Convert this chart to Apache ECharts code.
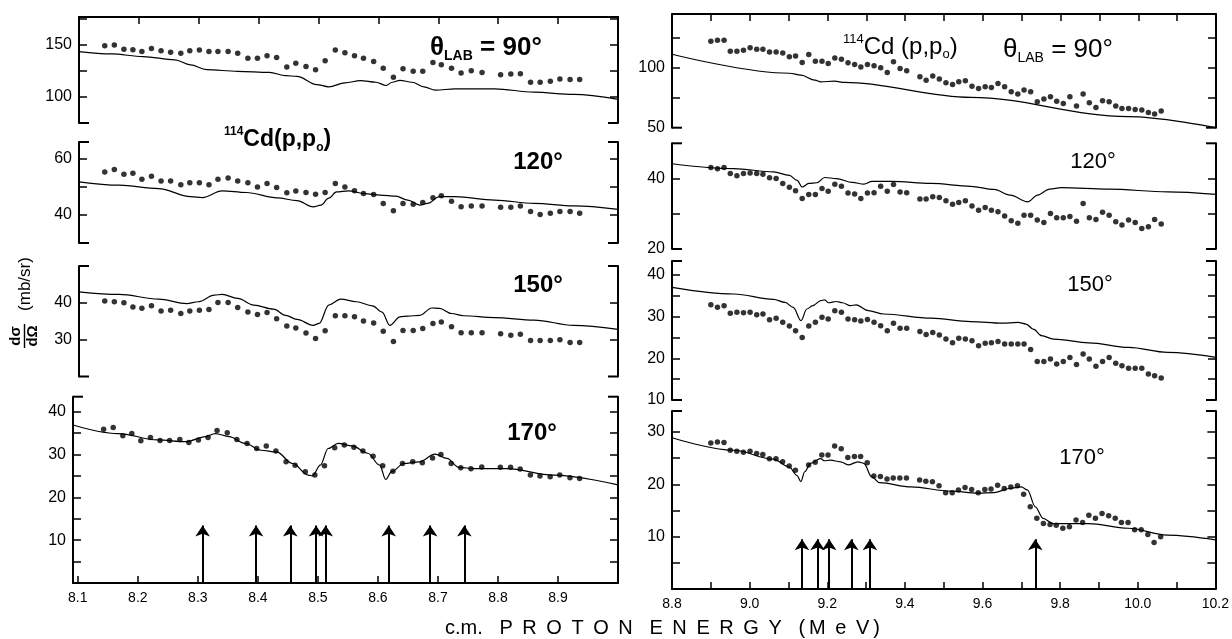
<!DOCTYPE html>
<html>
<head>
<meta charset="utf-8">
<title>114Cd(p,p0) excitation functions</title>
<script src="https://cdn.jsdelivr.net/npm/echarts@6/dist/echarts.min.js"></script>
<style>
  html, body { margin: 0; padding: 0; background: #fff; }
  #main { width: 1232px; height: 639px; }
</style>
</head>
<body>
<div id="main"></div>
<script>
// ---- data ----
// left column: measured energies (MeV), shared by the four angles
var leftE = [8.143, 8.159, 8.175, 8.190, 8.205, 8.221, 8.237, 8.253, 8.270, 8.285,
  8.301, 8.317, 8.332, 8.349, 8.365, 8.382, 8.398, 8.414, 8.430, 8.447,
  8.462, 8.479, 8.495, 8.511, 8.528, 8.544, 8.560, 8.575, 8.592, 8.608,
  8.625, 8.641, 8.658, 8.674, 8.691, 8.705, 8.722, 8.738, 8.755, 8.773,
  8.804, 8.821, 8.837, 8.854, 8.870, 8.887, 8.903, 8.920, 8.936];
var l90 = [149.4, 150, 145.9, 145.5, 143.7, 146.8, 144.6, 143, 142.1, 144.6,
  145.3, 143.7, 143.7, 143.7, 142.1, 137.3, 137.3, 139.6, 138, 128.8,
  132.6, 129.4, 126.3, 134.8, 145.3, 142.7, 139.6, 137.3, 134.2, 127.8,
  119, 127.2, 124.7, 124.7, 133.2, 131, 127.8, 123.1, 125.3, 123.7,
  121.5, 122.2, 122.5, 114.2, 114.2, 115.2, 117.4, 116.8, 116.8];
var l120 = [55.3, 56.2, 54.5, 54.9, 52.7, 53.8, 52.1, 52.1, 50.8, 51.5,
  51.5, 50.8, 52.7, 53.2, 52.1, 51.5, 50, 51.2, 49.8, 47.9,
  48.5, 48, 47.4, 48, 51.2, 50, 48.6, 47.6, 47.3, 44.1,
  41.5, 44.1, 43.8, 44.4, 46.1, 46.8, 44.9, 42.9, 43.2, 43.2,
  42.7, 42.7, 43.2, 41.2, 40.2, 40.6, 41.2, 41.2, 40.6];
var l150 = [40.5, 40.3, 40, 38.9, 38.5, 39.2, 37.8, 38, 37.1, 37.8,
  38, 38.2, 40.1, 40.1, 38.7, 37.5, 36.8, 37.4, 35.7, 33.7,
  33.2, 31.8, 30.3, 32.4, 36.5, 36.5, 36.2, 35.1, 34.5, 32.3,
  29.5, 32.5, 32.5, 33, 34.4, 34.8, 33.5, 31.9, 31.9, 31.9,
  31.6, 31.2, 31.5, 29.8, 29.8, 29.8, 30, 29.2, 29.2];
var l170 = [35.9, 36.3, 34.4, 34.9, 33.2, 34, 33.3, 33.3, 33.5, 32.8,
  33.4, 34, 35.6, 35.1, 33.5, 32.6, 31.4, 32, 30.8, 28.3,
  27.5, 26, 25.2, 27.4, 31.6, 32.2, 31.7, 30.8, 29.6, 27.4,
  26.1, 27.9, 28.3, 28.1, 29.2, 30, 27.9, 26.9, 26.7, 27.1,
  27, 27, 26.6, 25.2, 25, 24.8, 25.2, 24.6, 24.4];

// left column: calculated curves
var l90FitE = [8.1, 8.154, 8.207, 8.26, 8.286, 8.313, 8.365, 8.418, 8.445, 8.464, 8.497, 8.517, 8.544,
  8.57, 8.596, 8.613, 8.623, 8.636, 8.656, 8.676, 8.695, 8.728, 8.794, 8.86, 8.926, 9.0];
var l90Fit = [143.7, 141.5, 138.9, 135.8, 131, 126.3, 124.7, 123.7, 120.6, 119.9, 112, 109.8, 113.6,
  115.8, 114.2, 111.1, 114.2, 116.1, 114.2, 109.8, 106.6, 107.9, 107.9, 104.7, 102.5, 97.8];
var l120FitE = [8.1, 8.167, 8.233, 8.286, 8.306, 8.339, 8.379, 8.431, 8.464, 8.491, 8.504, 8.517, 8.53,
  8.55, 8.577, 8.603, 8.629, 8.649, 8.669, 8.682, 8.702, 8.728, 8.794, 8.86, 8.926, 9.0];
var l120Fit = [51.8, 50.6, 49.4, 46.5, 46.2, 48.6, 48, 46.1, 45.1, 42.9, 43.5, 46, 48.2,
  48.6, 47.6, 47.1, 46.7, 45.3, 43.5, 44.1, 46.5, 46.5, 45.3, 44.1, 43.2, 42];
var l150FitE = [8.1, 8.167, 8.233, 8.28, 8.299, 8.326, 8.339, 8.365, 8.392, 8.425, 8.445, 8.464, 8.491,
  8.501, 8.517, 8.537, 8.563, 8.59, 8.606, 8.619, 8.636, 8.649, 8.669, 8.689, 8.702, 8.722, 8.742,
  8.794, 8.86, 8.926, 9.0];
var l150Fit = [43, 42.3, 41, 39.8, 40.3, 42.1, 42.3, 41.2, 39.4, 38.3, 36.6, 35.5, 33.9,
  34.4, 39.4, 41, 40.3, 39.2, 37.5, 33.9, 36.2, 36.4, 36.6, 38.6, 38.5, 37.1, 36.5,
  36, 35.3, 33.9, 32.8];
var l170FitE = [8.092, 8.167, 8.233, 8.28, 8.313, 8.329, 8.352, 8.379, 8.405, 8.431, 8.458, 8.484, 8.491,
  8.504, 8.517, 8.534, 8.557, 8.583, 8.603, 8.613, 8.623, 8.643, 8.669, 8.695, 8.715, 8.735, 8.761,
  8.814, 8.893, 9.0];
var l170Fit = [36.9, 34.9, 33.4, 33, 34.2, 34.9, 34.2, 32.6, 31, 30.6, 27.9, 25.2, 25,
  27.5, 31.4, 32.6, 32, 30.3, 27.5, 24.2, 26, 27.9, 28.3, 30.1, 29.1, 27, 26.7,
  26.7, 25.2, 22.9];

// right column: measured energies (MeV), shared by the four angles
var rightE = [8.900, 8.917, 8.934, 8.950, 8.967, 8.984, 9.001, 9.018, 9.034, 9.051,
  9.068, 9.085, 9.102, 9.118, 9.135, 9.152, 9.169, 9.186, 9.202, 9.219,
  9.236, 9.253, 9.270, 9.286, 9.303, 9.320, 9.337, 9.354, 9.370, 9.387,
  9.404, 9.421, 9.438, 9.454, 9.471, 9.488, 9.505, 9.522, 9.538, 9.555,
  9.572, 9.589, 9.606, 9.622, 9.639, 9.656, 9.673, 9.690, 9.706, 9.723,
  9.740, 9.757, 9.774, 9.790, 9.807, 9.824, 9.841, 9.858, 9.874, 9.891,
  9.908, 9.925, 9.942, 9.958, 9.975, 9.992, 10.009, 10.026, 10.042, 10.059];
var r90 = [122.2, 123.1, 123.1, 113.9, 113.9, 114.7, 116.7, 115.6, 115.6, 113.3,
  113.3, 112.5, 109.2, 110, 104.4, 111.1, 105.6, 105.6, 103.6, 108.3,
  107.2, 104.2, 102.8, 100.8, 102.8, 101.7, 100, 96.1, 105, 99.4,
  97.5, null, 92.5, 89.7, 93.1, 90.6, 87.5, 86.1, 88.3, 89.2,
  84.7, 82.8, 84.2, 83.6, 86.9, 84.2, 80, 78.1, 81.4, 80,
  71.7, 73.9, 75.8, 72.2, 70.3, 75.8, 68.1, 78.1, 70.8, 66.9,
  72.5, 71.7, 68.1, 66.1, 66.1, 65.3, 64.7, 62.8, 61.4, 63.9];
var r120 = [43.1, 42.8, 43.1, 41.4, 40.8, 41.4, 41.6, 41.4, 41.2, 40.2,
  40, 38.6, 37.5, 36.5, 34.3, 35.5, 35.5, 37.2, 36.4, 38.4,
  37.8, 35.9, 35.6, 34.3, 35.9, 36.0, 37.8, 36.4, 38.3, 36.2,
  36.0, null, 34.2, 34.2, 34.8, 34.6, 33.7, 32.7, 33.2, 33.7,
  32.2, 31.0, 31.8, 31.0, 30.6, 29.4, 28.0, 27.3, 29.6, 29.6,
  28.2, 27.5, 30.1, 28.9, 28.9, 29.2, 27.9, 32.9, 28.9, 28.4,
  30.4, 29.6, 27.7, 26.8, 28.2, 27.5, 25.8, 26.3, 28.4, 27.1];
var r150 = [32.8, 32.2, 32.6, 30.8, 31.0, 30.9, 31.0, 30.4, 30.6, 29.2,
  29.6, 28.6, 27.7, 26.6, 25.0, 27.7, 28.6, 29.8, 29.4, 31.4,
  31.0, 29.4, 29.2, 28.9, 29.3, 28.6, 27.8, 26.6, 28.4, 27.2,
  27.2, null, 26.4, 25.7, 26.2, 25.6, 24.6, 23.7, 24.8, 24.6,
  24.2, 23.0, 23.6, 23.7, 24.0, 23.4, 23.4, 23.4, 23.4, 22.1,
  19.2, 19.2, 19.8, 18.6, 19.2, 20.2, 18.5, 21.0, 19.8, 18.1,
  19.2, 20.2, 18.8, 18.2, 17.6, 17.6, 17.6, 16.2, 15.8, 15.3];
var r170 = [27.9, 28.1, 28.0, 26.5, 26.3, 26.1, 26.3, 25.9, 25.7, 24.9,
  24.9, 24.3, 23.5, 22.7, null, 23.7, 24.2, 25.6, 25.6, 27.3,
  26.8, 25.1, 25.3, 25.3, 24.1, 21.6, 21.5, 21.0, 21.2, 21.2,
  21.2, null, 20.8, 20.6, 20.5, 19.7, 18.4, 18.4, 18.9, 19.4,
  19.0, 18.4, 19.0, 19.1, 19.8, 19.2, 19.5, 19.7, 18.1, 15.7,
  13.5, 12.5, 12.3, 12.2, 11.6, 11.9, 13.2, 12.7, 14.1, 13.5,
  14.4, 14.0, 13.5, 12.7, 12.7, 11.3, 11.3, 10.4, 8.9, 10.0];

// right column: calculated curves
var r90FitE = [8.8, 9.102, 9.132, 9.168, 9.183, 9.218, 9.244, 9.569, 9.975, 10.2];
var r90Fit = [111.4, 95.5, 93.9, 89.7, 88.3, 88.9, 87.8, 75.3, 59.2, 50];
var r120FitE = [8.8, 8.959, 9.061, 9.102, 9.122, 9.135, 9.152, 9.173, 9.193, 9.223, 9.264, 9.294, 9.315,
  9.365, 9.467, 9.569, 9.629, 9.67, 9.716, 9.741, 9.772, 9.802, 9.924, 10.076, 10.2];
var r120Fit = [44.2, 42.8, 41.9, 40.9, 39.5, 37.6, 38.6, 38.8, 40.3, 40, 38.9, 38.4, 39.2,
  39.2, 38.6, 37.8, 36.9, 35.3, 33.4, 35.3, 37.0, 37.4, 37.0, 36.2, 35.5];
var r150FitE = [8.8, 8.959, 9.061, 9.091, 9.112, 9.132, 9.147, 9.162, 9.183, 9.193, 9.203, 9.223, 9.239,
  9.259, 9.274, 9.305, 9.345, 9.467, 9.569, 9.65, 9.69, 9.711, 9.731, 9.751, 9.782, 9.873, 9.975,
  10.076, 10.2];
var r150Fit = [37.0, 35.4, 34.1, 33.4, 32.2, 29.0, 31.8, 32.6, 33.8, 34.0, 33.3, 33.6, 33.3,
  32.6, 32.8, 31.4, 30.6, 29.6, 28.8, 28.4, 28.6, 28.2, 26.9, 25.4, 24.6, 23.7, 22.6,
  21.4, 20.2];
var r170FitE = [8.8, 8.959, 9.061, 9.102, 9.122, 9.132, 9.142, 9.157, 9.183, 9.193, 9.208, 9.234, 9.254,
  9.279, 9.294, 9.315, 9.335, 9.416, 9.518, 9.589, 9.629, 9.67, 9.7, 9.716, 9.736, 9.756, 9.782,
  9.873, 9.975, 10.076, 10.2];
var r170Fit = [28.9, 26.5, 24.8, 23.3, 21.7, 20.5, 22.4, 24.0, 24.9, 24.5, 24.6, 24.3, 23.7,
  24.3, 24.0, 21.4, 20.3, 19.5, 18.7, 18.3, 18.4, 19.2, 19.5, 18.9, 15.7, 13.5, 12.5,
  12.5, 11.6, 10.3, 9.4];

// resonance markers (arrows) in the 170 degree panels
var leftArrows = [8.308, 8.397, 8.454, 8.497, 8.513, 8.618, 8.687, 8.744];
var leftArrowTop = 13.4;
var rightArrows = [9.135, 9.175, 9.205, 9.262, 9.31, 9.736];
var rightArrowTop = 9.5;

// tick values
var leftXTicks = [8.1, 8.2, 8.3, 8.4, 8.5, 8.6, 8.7, 8.8, 8.9];
var rightXTicks = [8.9, 9.0, 9.1, 9.2, 9.3, 9.4, 9.5, 9.6, 9.7, 9.8, 9.9, 10.0, 10.1];
var rightXLabels = [8.8, 9.0, 9.2, 9.4, 9.6, 9.8, 10.0, 10.2];

// ---- layout ----
var INK = '#000';
var FONT = '"Liberation Sans", Arial, sans-serif';

var panels = [
  {left: 79, top: 17, width: 539, height: 106, xmin: 8.1, xmax: 9.0, ymin: 75, ymax: 177,
    yTicks: [100, 125, 150, 175], yLabels: [100, 150], edge: 'top', xTicks: leftXTicks,
    E: leftE, pts: l90, fitE: l90FitE, fit: l90Fit},
  {left: 79, top: 142, width: 539, height: 101, xmin: 8.1, xmax: 9.0, ymin: 30, ymax: 66,
    yTicks: [40, 50, 60], yLabels: [40, 60], edge: 'none',
    E: leftE, pts: l120, fitE: l120FitE, fit: l120Fit},
  {left: 79, top: 266, width: 539, height: 110.5, xmin: 8.1, xmax: 9.0, ymin: 20, ymax: 50,
    yTicks: [30, 40], yLabels: [30, 40], edge: 'none',
    E: leftE, pts: l150, fitE: l150FitE, fit: l150Fit},
  {left: 73, top: 396.7, width: 545, height: 186.3, xmin: 8.092, xmax: 9.0, ymin: 0, ymax: 43.5,
    yTicks: [5, 10, 15, 20, 25, 30, 35, 40], yLabels: [10, 20, 30, 40], edge: 'bottom',
    xTicks: leftXTicks, xLabels: leftXTicks,
    E: leftE, pts: l170, fitE: l170FitE, fit: l170Fit, arrows: leftArrows, arrowTop: leftArrowTop},
  {left: 672, top: 14, width: 544, height: 113.7, xmin: 8.8, xmax: 10.2, ymin: 50, ymax: 145,
    yTicks: [75, 100, 125], yLabels: [50, 100], edge: 'top', xTicks: rightXTicks,
    E: rightE, pts: r90, fitE: r90FitE, fit: r90Fit},
  {left: 672, top: 143.3, width: 544, height: 105.7, xmin: 8.8, xmax: 10.2, ymin: 20, ymax: 50,
    yTicks: [30, 40], yLabels: [20, 40], edge: 'none',
    E: rightE, pts: r120, fitE: r120FitE, fit: r120Fit},
  {left: 672, top: 261, width: 544, height: 139, xmin: 8.8, xmax: 10.2, ymin: 10, ymax: 43.3,
    yTicks: [15, 20, 25, 30, 35, 40], yLabels: [10, 20, 30, 40], edge: 'none',
    E: rightE, pts: r150, fitE: r150FitE, fit: r150Fit},
  {left: 672, top: 411, width: 544, height: 178, xmin: 8.8, xmax: 10.2, ymin: 0, ymax: 34,
    yTicks: [5, 10, 15, 20, 25, 30], yLabels: [10, 20, 30], edge: 'bottom',
    xTicks: rightXTicks, xLabels: rightXLabels,
    E: rightE, pts: r170, fitE: r170FitE, fit: r170Fit, arrows: rightArrows, arrowTop: rightArrowTop}
];

function pairs(xs, ys) {
  var out = [];
  for (var i = 0; i < xs.length; i++) {
    if (ys[i] != null) out.push([xs[i], ys[i]]);
  }
  return out;
}

function seg(x1, y1, x2, y2) {
  return {type: 'line', silent: true, shape: {x1: x1, y1: y1, x2: x2, y2: y2},
    style: {stroke: INK, lineWidth: 2}};
}

function txt(x, y, text, font, align, rich) {
  var style = {text: text, x: x, y: y, fill: INK, font: font,
    textAlign: align || 'left', textVerticalAlign: 'middle'};
  if (rich) style.rich = rich;
  return {type: 'text', silent: true, style: style};
}

var grids = [], xAxes = [], yAxes = [], series = [], graphics = [];

panels.forEach(function(p, i) {
  grids.push({left: p.left, top: p.top, width: p.width, height: p.height});

  xAxes.push({
    type: 'value', gridIndex: i, min: p.xmin, max: p.xmax,
    position: p.edge === 'top' ? 'top' : 'bottom',
    axisLine: {show: p.edge !== 'none', onZero: false, lineStyle: {color: INK, width: 2}},
    axisTick: {show: p.edge !== 'none', inside: true, length: 7,
      customValues: p.xTicks, lineStyle: {color: INK, width: 1.5}},
    axisLabel: {show: p.edge === 'bottom', customValues: p.xLabels, margin: 8,
      color: INK, fontFamily: FONT, fontSize: 14,
      formatter: function(v) { return v.toFixed(1); }},
    splitLine: {show: false}
  });

  // left and right sides of the bracket
  ['left', 'right'].forEach(function(side) {
    yAxes.push({
      type: 'value', gridIndex: i, position: side, min: p.ymin, max: p.ymax,
      axisLine: {show: true, onZero: false, lineStyle: {color: INK, width: 2}},
      axisTick: {show: true, inside: true, length: 8, customValues: p.yTicks,
        lineStyle: {color: INK, width: 1.5}},
      axisLabel: {show: side === 'left', customValues: p.yLabels, margin: 7,
        color: INK, fontFamily: FONT, fontSize: 16},
      splitLine: {show: false}
    });
  });

  var line = {
    type: 'line', xAxisIndex: i, yAxisIndex: i * 2,
    data: pairs(p.fitE, p.fit), showSymbol: false, symbol: 'none',
    smooth: 0.35, smoothMonotone: 'x',
    lineStyle: {color: INK, width: 1.2}, silent: true, z: 2
  };
  if (p.arrows) {
    line.markLine = {
      silent: true, symbol: ['none', 'arrow'], symbolSize: 11,
      lineStyle: {color: INK, width: 2, type: 'solid'},
      label: {show: false},
      data: p.arrows.map(function(e) { return [{coord: [e, 0]}, {coord: [e, p.arrowTop]}]; })
    };
  }
  series.push(line);
  series.push({
    type: 'scatter', xAxisIndex: i, yAxisIndex: i * 2,
    data: pairs(p.E, p.pts), symbol: 'circle', symbolSize: 5.5,
    itemStyle: {color: INK}, silent: true, z: 3
  });

  // bracket caps
  var L = p.left, R = p.left + p.width, T = p.top, B = p.top + p.height;
  if (p.edge !== 'top') { graphics.push(seg(L, T, L + 10, T), seg(R - 10, T, R, T)); }
  if (p.edge !== 'bottom') { graphics.push(seg(L, B, L + 10, B), seg(R - 10, B, R, B)); }
});

// panel annotations
var boldRich = {
  a: {fontFamily: FONT, fontSize: 26, fontWeight: 'bold', color: INK, lineHeight: 30},
  b: {fontFamily: FONT, fontSize: 14, fontWeight: 'bold', color: INK, verticalAlign: 'bottom', lineHeight: 30},
  m: {fontFamily: FONT, fontSize: 23, fontWeight: 'bold', color: INK, lineHeight: 28},
  s: {fontFamily: FONT, fontSize: 12, fontWeight: 'bold', color: INK, verticalAlign: 'top', lineHeight: 28},
  o: {fontFamily: FONT, fontSize: 12, fontWeight: 'bold', color: INK, verticalAlign: 'bottom', lineHeight: 28}
};
var thinRich = {
  a: {fontFamily: FONT, fontSize: 26, color: INK, lineHeight: 30},
  b: {fontFamily: FONT, fontSize: 14, color: INK, verticalAlign: 'bottom', lineHeight: 30},
  m: {fontFamily: FONT, fontSize: 24, color: INK, lineHeight: 28},
  s: {fontFamily: FONT, fontSize: 13, color: INK, verticalAlign: 'top', lineHeight: 28},
  o: {fontFamily: FONT, fontSize: 13, color: INK, verticalAlign: 'bottom', lineHeight: 28}
};

graphics.push(
  txt(430, 48, '{a|θ}{b|LAB}{a| = 90°}', null, 'left', boldRich),
  txt(224, 140, '{s|114}{m|Cd(p,p}{o|o}{m|)}', null, 'left', boldRich),
  txt(538, 162, '120°', 'bold 24px ' + FONT, 'center'),
  txt(538, 285, '150°', 'bold 24px ' + FONT, 'center'),
  txt(532, 433, '170°', 'bold 24px ' + FONT, 'center'),

  txt(1003, 50, '{a|θ}{b|LAB}{a| = 90°}', null, 'left', thinRich),
  txt(843, 47, '{s|114}{m|Cd (p,p}{o|o}{m|)}', null, 'left', thinRich),
  txt(1093, 162, '120°', '22px ' + FONT, 'center'),
  txt(1090, 285, '150°', '22px ' + FONT, 'center'),
  txt(1082, 458, '170°', '22px ' + FONT, 'center'),

  // x axis title
  txt(445, 628, 'c.m.   P\u2009 R\u2009 O\u2009 T\u2009 O\u2009 N   E\u2009 N\u2009 E\u2009 R\u2009 G\u2009 Y   (\u2009M\u2009 e\u2009 V\u2009)',
    '20px ' + FONT, 'left')
);

// y axis title, rotated: d(sigma)/d(Omega) (mb/sr)
graphics.push({
  type: 'group', x: 24, y: 300, rotation: Math.PI / 2, silent: true,
  children: [
    {type: 'text', x: 16, y: 1, style: {text: '(mb/sr)', font: '17px ' + FONT, fill: INK,
      textAlign: 'center', textVerticalAlign: 'middle'}},
    {type: 'text', x: -36, y: -8, style: {text: 'dσ', font: 'bold 15px ' + FONT, fill: INK,
      textAlign: 'center', textVerticalAlign: 'middle'}},
    {type: 'line', shape: {x1: -48, y1: 0.5, x2: -24, y2: 0.5}, style: {stroke: INK, lineWidth: 1.4}},
    {type: 'text', x: -36, y: 9, style: {text: 'dΩ', font: 'bold 15px ' + FONT, fill: INK,
      textAlign: 'center', textVerticalAlign: 'middle'}}
  ]
});

var chart = echarts.init(document.getElementById('main'));
chart.setOption({
  backgroundColor: '#fff',
  animation: false,
  grid: grids,
  xAxis: xAxes,
  yAxis: yAxes,
  series: series,
  graphic: graphics
});
</script>
</body>
</html>
